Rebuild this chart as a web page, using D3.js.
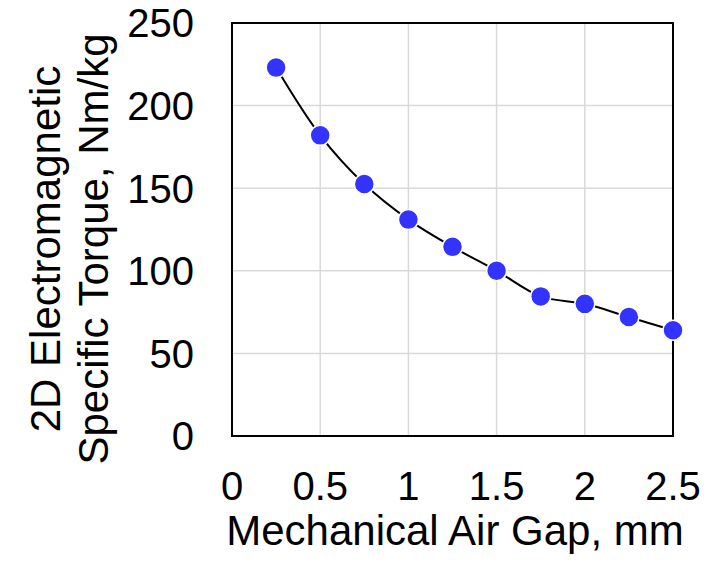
<!DOCTYPE html>
<html>
<head>
<meta charset="utf-8">
<script src="https://cdn.jsdelivr.net/npm/d3@7"></script>
<style>
  body { margin: 0; background: #fff; }
  text { font-family: "Liberation Sans", Arial, sans-serif; fill: #000; }
</style>
</head>
<body>
<script>
// air gap (mm) vs 2D specific torque (Nm/kg)
var gaps = [0.25, 0.5, 0.75, 1.0, 1.25, 1.5, 1.75, 2.0, 2.25, 2.5];
var torque = [223, 182, 152.5, 131, 114.5, 100, 84.5, 80, 72, 64];
var xTicks = [0, 0.5, 1, 1.5, 2, 2.5];
var yTicks = [0, 50, 100, 150, 200, 250];

var W = 712, H = 566;
var pLeft = 232, pRight = 673, pTop = 23, pBottom = 436;

var svg = d3.select("body").append("svg")
    .attr("width", W)
    .attr("height", H);

var x = d3.scaleLinear().domain([0, 2.5]).range([pLeft, pRight]);
var y = d3.scaleLinear().domain([0, 250]).range([pBottom, pTop]);

// gridlines
svg.append("g").selectAll("line")
  .data(xTicks.slice(1, -1))
  .enter().append("line")
    .attr("x1", function(d) { return x(d); })
    .attr("x2", function(d) { return x(d); })
    .attr("y1", pTop).attr("y2", pBottom)
    .style("stroke", "#d9d9d9").style("stroke-width", 1.5);

svg.append("g").selectAll("line")
  .data(yTicks.slice(1, -1))
  .enter().append("line")
    .attr("x1", pLeft).attr("x2", pRight)
    .attr("y1", function(d) { return y(d); })
    .attr("y2", function(d) { return y(d); })
    .style("stroke", "#d9d9d9").style("stroke-width", 1.5);

// plot frame
svg.append("rect")
    .attr("x", pLeft).attr("y", pTop)
    .attr("width", pRight - pLeft).attr("height", pBottom - pTop)
    .style("fill", "none").style("stroke", "#000").style("stroke-width", 2);

// tick labels
svg.append("g").selectAll("text")
  .data(xTicks)
  .enter().append("text")
    .attr("x", function(d) { return x(d); })
    .attr("y", 500)
    .attr("text-anchor", "middle")
    .style("font-size", "40px")
    .text(function(d) { return d; });

svg.append("g").selectAll("text")
  .data(yTicks)
  .enter().append("text")
    .attr("x", 194)
    .attr("y", function(d) { return y(d); })
    .attr("dy", "0.36em")
    .attr("text-anchor", "end")
    .style("font-size", "40px")
    .text(function(d) { return d; });

// axis titles
svg.append("text")
    .attr("x", 455)
    .attr("y", 545)
    .attr("text-anchor", "middle")
    .style("font-size", "42px")
    .text("Mechanical Air Gap, mm");

var yt = svg.append("text")
    .attr("transform", "translate(0,249) rotate(-90)")
    .attr("text-anchor", "middle")
    .style("font-size", "42px");
yt.append("tspan").attr("x", 0).attr("y", 60).text("2D Electromagnetic");
yt.append("tspan").attr("x", 0).attr("y", 108).text("Specific Torque, Nm/kg");

// smoothed line
var pts = gaps.map(function(g, i) { return [g, torque[i]]; });
var line = d3.line()
    .x(function(d) { return x(d[0]); })
    .y(function(d) { return y(d[1]); })
    .curve(d3.curveCatmullRom.alpha(0.5));

svg.append("path")
    .datum(pts)
    .attr("d", line)
    .style("fill", "none").style("stroke", "#000").style("stroke-width", 2);

svg.append("g").selectAll("circle")
  .data(pts)
  .enter().append("circle")
    .attr("cx", function(d) { return x(d[0]); })
    .attr("cy", function(d) { return y(d[1]); })
    .attr("r", 10)
    .style("fill", "#3333ff")
    .style("stroke", "#fff").style("stroke-width", 1.5);
</script>
</body>
</html>
